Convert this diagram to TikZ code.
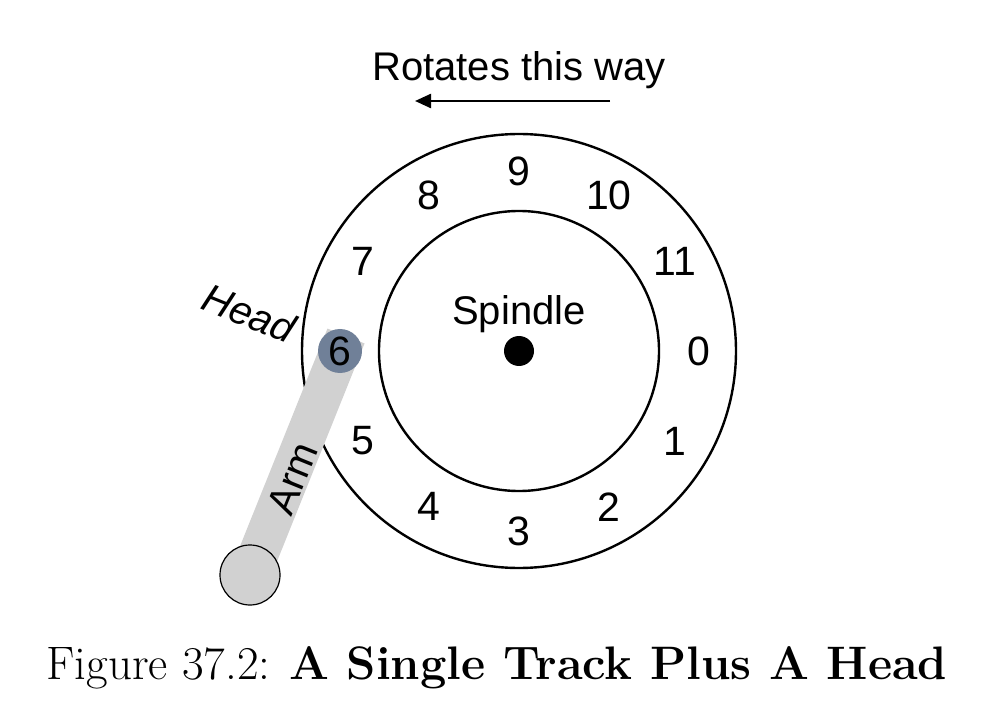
\documentclass[tikz,border=0pt]{standalone}
\usepackage{fontspec}
\usetikzlibrary{calc,arrows.meta}
\newfontfamily\hel{Liberation Sans}
\begin{document}
\begin{tikzpicture}[x=1pt,y=-1pt,
  num/.style={font=\hel\fontsize{41}{44}\selectfont,inner sep=0pt},
  lab/.style={font=\hel\fontsize{40}{44}\selectfont,inner sep=0pt},
  ring/.style={draw,line width=2.4pt}]
\useasboundingbox (0,0) rectangle (997,722);
\coordinate (c) at (519,351);
\draw[ring] (c) circle (217);
\draw[ring] (c) circle (140);
\fill (c) circle (15);
\node[lab] (sp) at (519,314) {Spindle};
\foreach \k in {0,1,2,3,4,5,7,8,9,10,11}{
  \node[num] (n\k) at ($(c)+({30*\k}:180)$) {\k};
}
% arm
\coordinate (armend) at (250,575);
\coordinate (armtop) at (346,336);
\draw[line width=40pt,color=black!18] (armend) -- (armtop);
\node[circle,draw,line width=1.2pt,fill=black!18,minimum size=60pt,inner sep=0pt] (base) at (armend) {};
\node[circle,fill={rgb,255:red,112;green,128;blue,152},minimum size=44pt,inner sep=0pt] (head) at (340,351) {};
\node[num] (n6) at (head) {6};
\node[lab,rotate=68] (arm) at (292,478) {Arm};
\node[lab,rotate=-22] (hl) at (249,313) {\itshape Head};
% rotation arrow
\coordinate (a1) at (610,101);
\coordinate (a2) at (415,101);
\draw[line width=2.4pt,-{Triangle[length=16pt,width=14pt]}] (a1) -- (a2);
\node[lab] (rot) at (519,70) {Rotates this way};
\node[font=\fontsize{47}{50}\selectfont,inner sep=0pt] (cap) at (497,668) {Figure 37.2: \textbf{A Single Track Plus A Head}};
\end{tikzpicture}
\end{document}
